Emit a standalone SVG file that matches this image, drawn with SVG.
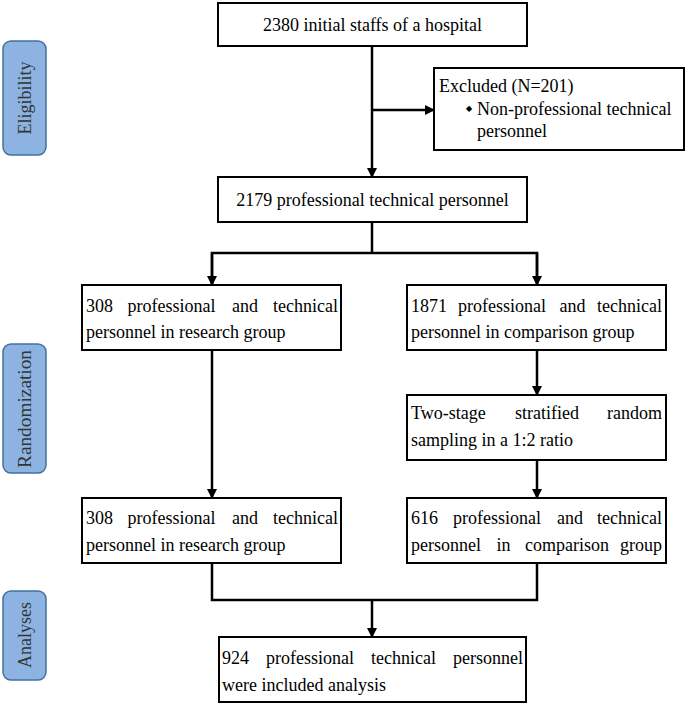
<svg xmlns="http://www.w3.org/2000/svg" width="685" height="704" viewBox="0 0 685 704">
<defs>
<style>
.box{fill:#fff;stroke:#000;stroke-width:2}
.pill{fill:#8db3e2;stroke:#41719c;stroke-width:1.5}
.t{font-family:"Liberation Serif","Times New Roman",serif;font-size:18px;fill:#000}
.pt{font-family:"Liberation Serif","Times New Roman",serif;font-size:18px;fill:#333;text-anchor:middle}
.c{fill:none;stroke:#000;stroke-width:2.5}
</style>
<marker id="ah" markerWidth="10" markerHeight="10" refX="9" refY="5" orient="auto" markerUnits="userSpaceOnUse">
<path d="M0,0 L10,5 L0,10 Z" fill="#000"/>
</marker>
</defs>
<rect width="685" height="704" fill="#fff"/>

<g id="phase-eligibility">
<rect class="pill" x="3" y="41" width="43" height="114" rx="8"/>
<text class="pt" transform="translate(31,98) rotate(-90)" textLength="73" lengthAdjust="spacingAndGlyphs">Eligibility</text>
</g>
<g id="phase-randomization">
<rect class="pill" x="3" y="344" width="43" height="129" rx="8"/>
<text class="pt" transform="translate(31,409) rotate(-90)" textLength="118" lengthAdjust="spacingAndGlyphs">Randomization</text>
</g>
<g id="phase-analyses">
<rect class="pill" x="3" y="591" width="43" height="89" rx="8"/>
<text class="pt" transform="translate(31,635) rotate(-90)" textLength="66" lengthAdjust="spacingAndGlyphs">Analyses</text>
</g>

<g id="connectors">
<line class="c" x1="372" y1="46" x2="372" y2="177" marker-end="url(#ah)"/>
<line class="c" x1="372" y1="110" x2="434" y2="110" marker-end="url(#ah)"/>
<polyline class="c" points="372,222 372,253"/>
<polyline class="c" points="212,285 212,253 537,253 537,285"/>
<line class="c" x1="212" y1="253" x2="212" y2="285" marker-end="url(#ah)"/>
<line class="c" x1="537" y1="253" x2="537" y2="285" marker-end="url(#ah)"/>
<line class="c" x1="212" y1="350" x2="212" y2="498" marker-end="url(#ah)"/>
<line class="c" x1="537" y1="350" x2="537" y2="395" marker-end="url(#ah)"/>
<line class="c" x1="537" y1="460" x2="537" y2="498" marker-end="url(#ah)"/>
<polyline class="c" points="212,563 212,600 537,600 537,563"/>
<line class="c" x1="372" y1="600" x2="372" y2="637" marker-end="url(#ah)"/>
</g>

<g id="n-initial">
<rect class="box" x="218" y="3" width="309" height="43"/>
<text class="t" x="372.5" y="31" text-anchor="middle">2380 initial staffs of a hospital</text>
</g>
<g id="n-excluded">
<rect class="box" x="434" y="68" width="250" height="82"/>
<text class="t" x="439" y="92">Excluded (N=201)</text>
<text class="t" x="469" y="111" style="font-size:8px" text-anchor="middle">◆</text>
<text class="t" x="477" y="115">Non-professional technical</text>
<text class="t" x="477" y="137">personnel</text>
</g>
<g id="n-professional">
<rect class="box" x="218" y="177" width="309" height="45"/>
<text class="t" x="372.5" y="206" text-anchor="middle">2179 professional technical personnel</text>
</g>
<g id="n-research1">
<rect class="box" x="82" y="285" width="259" height="65"/>
<text class="t" y="312"><tspan x="86">308</tspan><tspan x="171.5" text-anchor="middle">professional</tspan><tspan x="245" text-anchor="middle">and</tspan><tspan x="338" text-anchor="end">technical</tspan></text>
<text class="t" x="86" y="338">personnel in research group</text>
</g>
<g id="n-comparison1">
<rect class="box" x="407" y="285" width="259" height="65"/>
<text class="t" y="312"><tspan x="411">1871</tspan><tspan x="502" text-anchor="middle">professional</tspan><tspan x="572.5" text-anchor="middle">and</tspan><tspan x="662" text-anchor="end">technical</tspan></text>
<text class="t" x="411" y="338">personnel in comparison group</text>
</g>
<g id="n-sampling">
<rect class="box" x="407" y="395" width="259" height="65"/>
<text class="t" y="419"><tspan x="411">Two-stage</tspan><tspan x="547" text-anchor="middle">stratified</tspan><tspan x="662" text-anchor="end">random</tspan></text>
<text class="t" x="411" y="446">sampling in a 1:2 ratio</text>
</g>
<g id="n-research2">
<rect class="box" x="82" y="498" width="259" height="65"/>
<text class="t" y="524"><tspan x="86">308</tspan><tspan x="171.5" text-anchor="middle">professional</tspan><tspan x="245" text-anchor="middle">and</tspan><tspan x="338" text-anchor="end">technical</tspan></text>
<text class="t" x="86" y="551">personnel in research group</text>
</g>
<g id="n-comparison2">
<rect class="box" x="407" y="498" width="259" height="65"/>
<text class="t" y="524"><tspan x="411">616</tspan><tspan x="497" text-anchor="middle">professional</tspan><tspan x="570" text-anchor="middle">and</tspan><tspan x="662" text-anchor="end">technical</tspan></text>
<text class="t" y="551"><tspan x="411">personnel</tspan><tspan x="503.5" text-anchor="middle">in</tspan><tspan x="567" text-anchor="middle">comparison</tspan><tspan x="662" text-anchor="end">group</tspan></text>
</g>
<g id="n-analysis">
<rect class="box" x="219" y="637" width="307" height="65"/>
<text class="t" y="664"><tspan x="222">924</tspan><tspan x="310" text-anchor="middle">professional</tspan><tspan x="403.5" text-anchor="middle">technical</tspan><tspan x="523" text-anchor="end">personnel</tspan></text>
<text class="t" x="222" y="691">were included analysis</text>
</g>
</svg>
